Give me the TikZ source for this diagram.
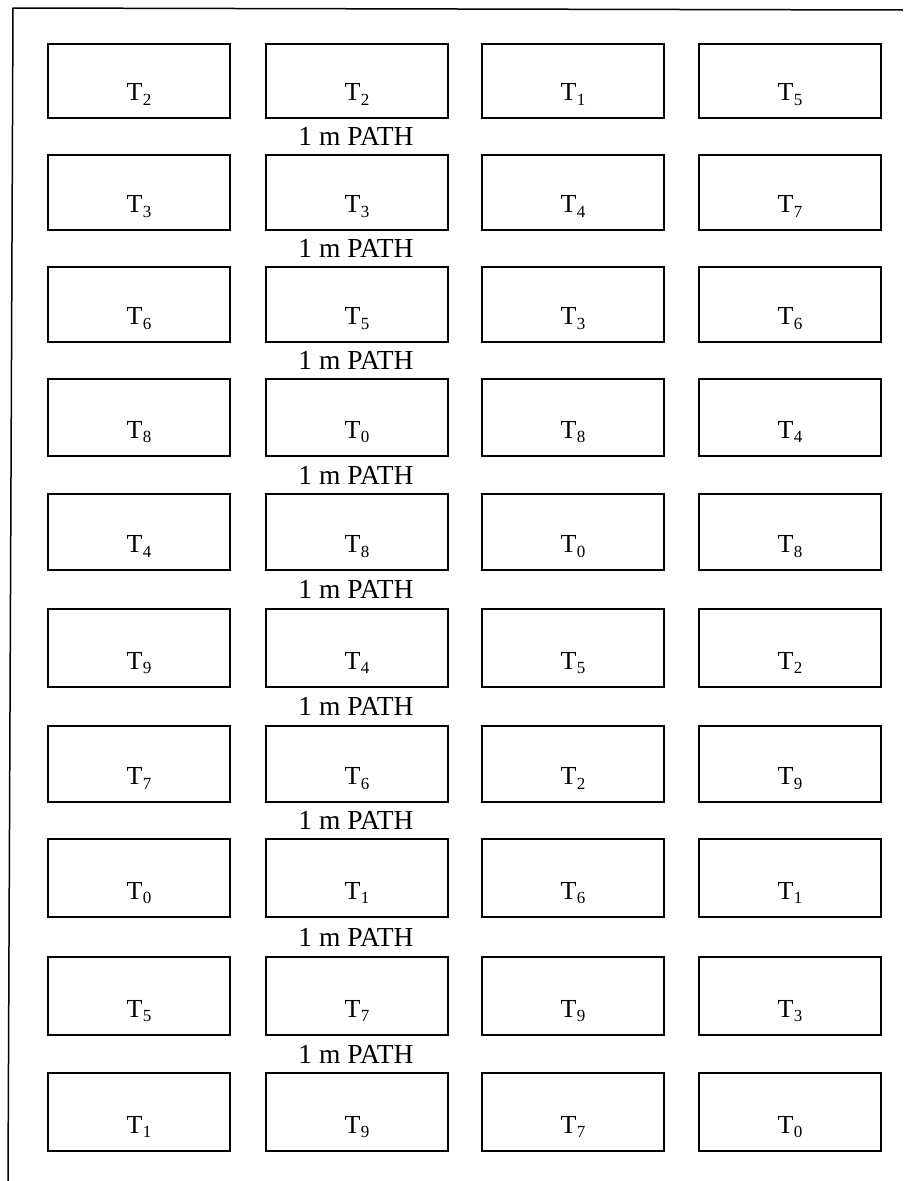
\documentclass[tikz,border=0pt]{standalone}
\usepackage{fontspec}
\setmainfont{Liberation Serif}
\newcommand{\tsub}[1]{T\kern0.5pt\raisebox{-4.5pt}{\fontsize{17}{17}\selectfont #1}}
\begin{document}
\begin{tikzpicture}[x=1pt,y=-1pt,
  cell/.style={draw, line width=1.5pt, rectangle, minimum width=182pt, inner sep=0pt, outer sep=0pt, anchor=north west},
  tname/.style={anchor=base, font=\fontsize{26}{26}\selectfont, inner sep=0pt},
  pathlabel/.style={font=\fontsize{27.5}{27.5}\selectfont, inner sep=0pt},
  framel/.style={line width=1.5pt}]
\useasboundingbox (0,0) rectangle (903,1181);
\coordinate (ftl) at (13,8);
\coordinate (ftr) at (903,10);
\coordinate (fbl) at (8,1181);
\draw[framel] (ftr) -- (ftl) -- (fbl);
\foreach \r/\top/\h/\a/\b/\c/\d in {
  1/44/74/2/2/1/5,
  2/155/75/3/3/4/7,
  3/267/75/6/5/3/6,
  4/379/77/8/0/8/4,
  5/494/76/4/8/0/8,
  6/609/78/9/4/5/2,
  7/726/76/7/6/2/9,
  8/839/78/0/1/6/1,
  9/957/78/5/7/9/3,
  10/1073/78/1/9/7/0}{
  \foreach \col/\x/\v in {1/48/\a, 2/266/\b, 3/482/\c, 4/699/\d}{
    \pgfmathsetmacro\by{\top+0.77*\h}
    \pgfmathsetmacro\cx{\x+91}
    \node[cell, minimum height=\h pt] (b\r-\col) at (\x,\top) {};
    \node[tname] (t\r-\col) at (\cx,\by) {\tsub{\v}};
  }
}
\foreach \r/\y in {1/136.5, 2/248.5, 3/360.5, 4/475, 5/589.5, 6/706.5, 7/820.5, 8/937, 9/1054}{
  \node[pathlabel] (p\r) at (356,\y) {1 m PATH};
}
\end{tikzpicture}
\end{document}
